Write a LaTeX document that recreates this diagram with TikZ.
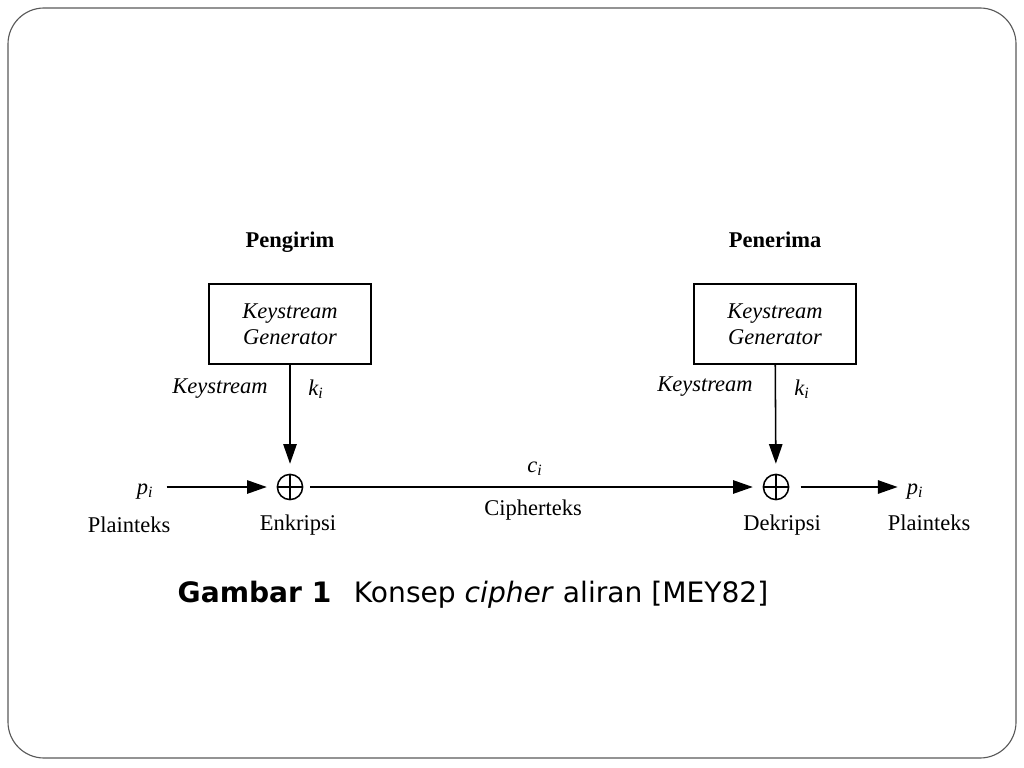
\documentclass[tikz,border=0pt]{standalone}
\usepackage{fontspec}
\setmainfont{Liberation Serif}
\newfontfamily\capfont{DejaVu Sans}
\usepackage{tikz}
\usetikzlibrary{arrows.meta}
\usetikzlibrary{positioning}
\tikzstyle{gen}=[draw,minimum width=4.05cm,minimum height=2cm,align=center,font=\fontsize{16}{18.5}\selectfont\itshape]
\tikzstyle{lbl}=[text height=11pt,text depth=3.5pt,inner sep=2pt]
\begin{document}
\begin{tikzpicture}[x=0.025cm,y=-0.025cm,line width=1.1pt,>={Triangle[length=14pt,width=9.5pt]},font=\fontsize{16}{18.5}\selectfont]
\tikzstyle{xor}=[draw,circle,minimum size=0.63cm,inner sep=0pt]
\useasboundingbox (0,0) rectangle (1024,768);
\draw[black!65,line width=0.8pt,rounded corners=0.9cm] (8,8) rectangle (1016,758);
% Pengirim
\node[lbl,font=\fontsize{16}{18.5}\selectfont\bfseries] (hs) at (290,242) {Pengirim};
\node[gen] (gs) at (290,324) {Keystream\\Generator};
\node[xor] (xs) at (290,487) {};
\draw (xs.north) -- (xs.south) (xs.west) -- (xs.east);
\node[lbl] (ks) at (220,388) {\textit{Keystream}};
\node[lbl] (kis) at (316,390) {\textit{k\textsubscript{i}}};
\node[lbl] (ps) at (145,489) {\textit{p\textsubscript{i}}};
\node[lbl] (ls) at (129,527) {Plainteks};
\node[lbl] (es) at (298,525) {Enkripsi};
% Penerima
\node[lbl,font=\fontsize{16}{18.5}\selectfont\bfseries] (hr) at (775,242) {Penerima};
\node[gen] (gr) at (775,324) {Keystream\\Generator};
\node[xor] (xr) at (776,487) {};
\draw (xr.north) -- (xr.south) (xr.west) -- (xr.east);
\node[lbl] (kr) at (705,386) {\textit{Keystream}};
\node[lbl] (kir) at (802,390) {\textit{k\textsubscript{i}}};
\node[lbl] (pr) at (915,489) {\textit{p\textsubscript{i}}};
\node[lbl] (lr) at (929,525) {Plainteks};
\node[lbl] (dr) at (782,525) {Dekripsi};
% cipherteks
\node[lbl] (c) at (535,467) {\textit{c\textsubscript{i}}};
\node[lbl] (ct) at (533,510) {Cipherteks};
\draw[->,shorten >=7pt] (gs) -- (xs);
\draw[->,shorten >=7pt] (gr) -- (xr);
\draw[->,shorten <=7pt,shorten >=7pt] (ps.east |- xs) -- (xs);
\draw[->,shorten <=5pt,shorten >=7pt] (xs) -- (xr);
\draw[->,shorten <=8pt,shorten >=4pt] (xr) -- (pr.west |- xr);
% keterangan
\node[font=\capfont\fontsize{20}{24}\selectfont] (g) at (473,595) {\textbf{Gambar 1}\hspace{0.8em}Konsep \textit{cipher} aliran [MEY82]};
\end{tikzpicture}
\end{document}
